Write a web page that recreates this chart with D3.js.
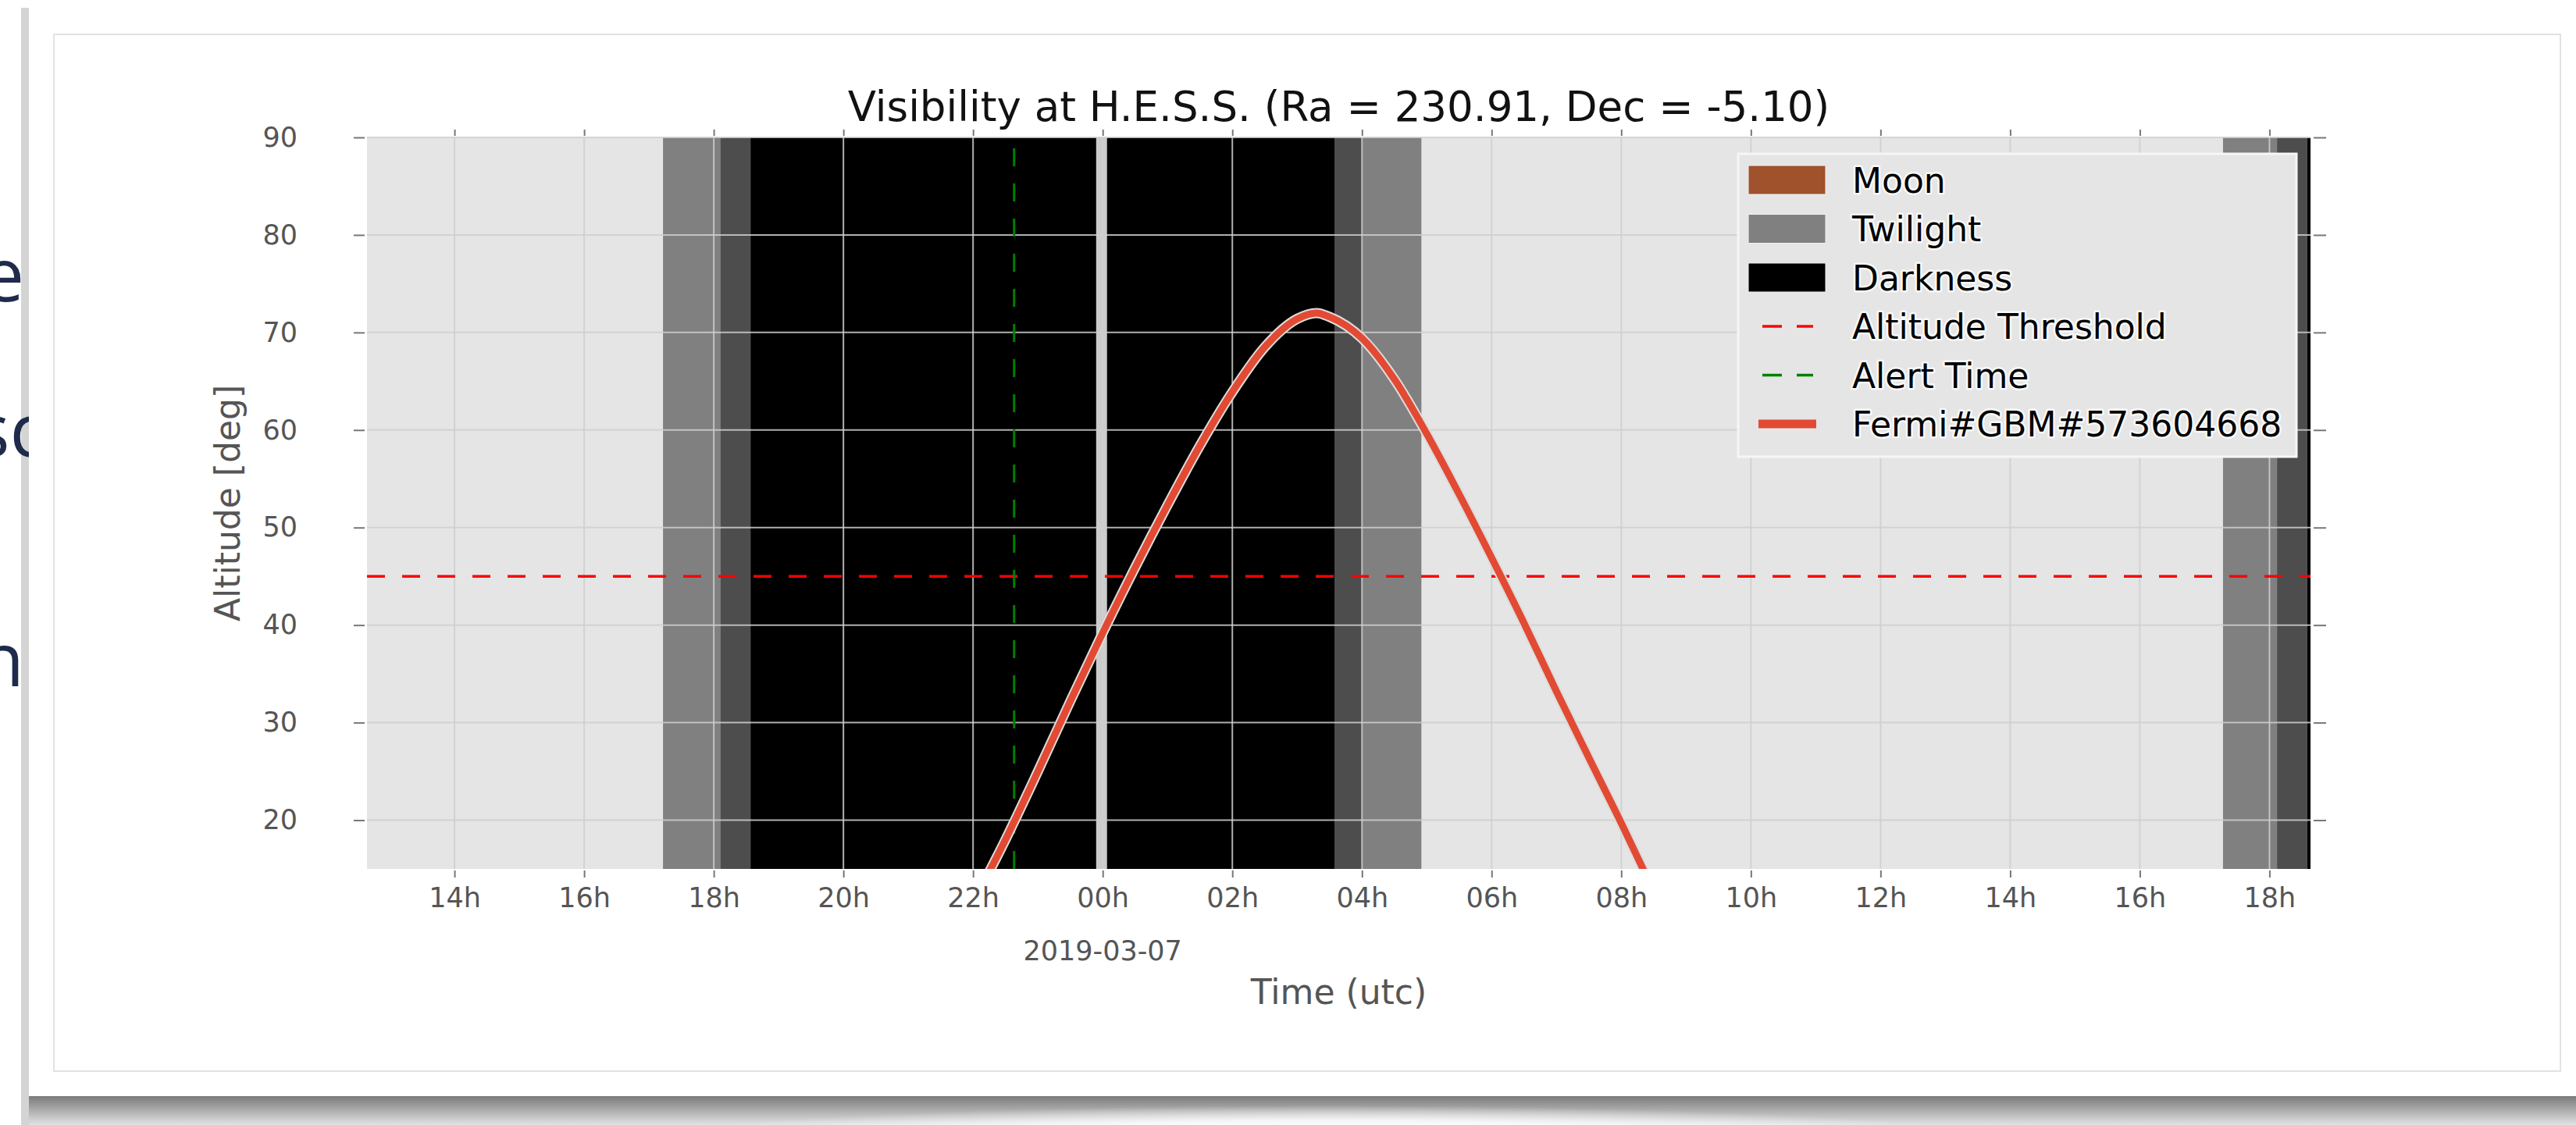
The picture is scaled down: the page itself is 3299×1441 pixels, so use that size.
<!DOCTYPE html>
<html>
<head>
<meta charset="utf-8">
<script src="https://cdn.jsdelivr.net/npm/d3@7"></script>
<style>
  body { margin: 0; background: #fff; }
  svg { display: block; font-family: "DejaVu Sans", sans-serif; }
</style>
</head>
<body>
<div id="plot"></div>
<script>
// page size and plot box
const w = 3299;
const h = 1441;
const margin = {top: 176, right: 340, bottom: 328, left: 470};
const innerWidth = w - margin.left - margin.right;
const innerHeight = h - margin.top - margin.bottom;

// axis ranges and ticks
const timeDomain = ["2019-03-06T12:39Z", "2019-03-07T18:38Z"];
const altDomain = [15, 90];
const altTicks = [20, 30, 40, 50, 60, 70, 80, 90];
const dateLabel = "2019-03-07";
const dateLabelTime = "2019-03-07T00:00Z";

// sky condition bands
const bandStart = ["2019-03-06T17:13Z", "2019-03-06T18:06Z", "2019-03-06T18:34Z", "2019-03-06T23:54Z",
  "2019-03-07T00:04Z", "2019-03-07T03:35Z", "2019-03-07T04:01Z",
  "2019-03-07T17:17Z", "2019-03-07T18:07Z", "2019-03-07T18:35Z"];
const bandEnd = ["2019-03-06T18:06Z", "2019-03-06T18:34Z", "2019-03-06T23:54Z", "2019-03-07T00:04Z",
  "2019-03-07T03:35Z", "2019-03-07T04:01Z", "2019-03-07T04:55Z",
  "2019-03-07T18:07Z", "2019-03-07T18:35Z", "2019-03-07T18:38Z"];
const bandKind = ["twilight", "deep", "darkness", "gap", "darkness", "deep", "twilight",
  "twilight", "deep", "darkness"];

// source altitude
const curveTimes = ["2019-03-06T22:00Z", "2019-03-06T22:30Z", "2019-03-06T23:00Z", "2019-03-06T23:30Z",
  "2019-03-07T00:00Z", "2019-03-07T00:30Z", "2019-03-07T01:00Z", "2019-03-07T01:30Z",
  "2019-03-07T02:00Z", "2019-03-07T02:30Z", "2019-03-07T03:00Z", "2019-03-07T03:18Z",
  "2019-03-07T03:30Z", "2019-03-07T04:00Z", "2019-03-07T04:30Z", "2019-03-07T05:00Z",
  "2019-03-07T05:30Z", "2019-03-07T06:00Z", "2019-03-07T06:30Z", "2019-03-07T07:00Z",
  "2019-03-07T07:30Z", "2019-03-07T08:00Z", "2019-03-07T08:30Z"];
const curveAlt = [11.5, 18.0, 25.0, 32.2, 39.2, 45.9, 52.3, 58.4, 63.9, 68.5, 71.4, 72.0,
  71.6, 69.4, 65.2, 59.6, 53.4, 46.9, 40.2, 33.2, 26.4, 19.7, 12.7];

const altThreshold = 45;
const alertTime = "2019-03-06T22:38Z";

const legendLabels = ["Moon", "Twilight", "Darkness", "Altitude Threshold", "Alert Time", "Fermi#GBM#573604668"];
const legendTypes = ["patch", "patch", "patch", "dash", "dash", "line"];

const parse = d3.isoParse;

// create SVG element
const svg = d3.select("div#plot")
  .append("svg")
    .attr("width", w)
    .attr("height", h);

// ---- slide decoration around the chart ----
const defs = svg.append("defs");
defs.append("clipPath").attr("id", "leftcut")
  .append("rect").attr("x", 0).attr("y", 0).attr("width", 37).attr("height", h);
defs.append("clipPath").attr("id", "plotclip")
  .append("rect").attr("x", margin.left).attr("y", margin.top)
  .attr("width", innerWidth).attr("height", innerHeight);

const shade = defs.append("linearGradient").attr("id", "shade")
  .attr("x1", 0).attr("y1", 0).attr("x2", 0).attr("y2", 1);
shade.append("stop").attr("offset", "0%").attr("stop-color", "#7a7a7a");
shade.append("stop").attr("offset", "100%").attr("stop-color", "#e2e2e2");
const glow = defs.append("radialGradient").attr("id", "glow");
glow.append("stop").attr("offset", "0%").attr("stop-color", "#ffffff").attr("stop-opacity", 1);
glow.append("stop").attr("offset", "60%").attr("stop-color", "#ffffff").attr("stop-opacity", 0.8);
glow.append("stop").attr("offset", "100%").attr("stop-color", "#ffffff").attr("stop-opacity", 0);

svg.append("rect")
  .attr("x", 27).attr("y", 10).attr("width", 10).attr("height", h - 10)
  .attr("fill", "#d4d4d4");

// pieces of the slide text hidden behind the chart
const slideText = svg.append("g")
  .attr("clip-path", "url(#leftcut)")
  .attr("font-family", "'Open Sans', sans-serif")
  .attr("font-size", 95)
  .attr("fill", "#1e2b4a")
  .attr("text-anchor", "end");
slideText.append("text").attr("x", 31).attr("y", 386).text("e");
slideText.append("text").attr("x", 58).attr("y", 585).text("sc");
slideText.append("text").attr("x", 31).attr("y", 879).text("n");

svg.append("rect")
  .attr("x", 37).attr("y", 1404).attr("width", w - 37).attr("height", h - 1404)
  .attr("fill", "url(#shade)");
svg.append("ellipse")
  .attr("cx", 1700).attr("cy", 1466).attr("rx", 900).attr("ry", 50)
  .attr("fill", "url(#glow)");

svg.append("rect")
  .attr("x", 69).attr("y", 44).attr("width", 3210).attr("height", 1328)
  .attr("fill", "#ffffff")
  .attr("stroke", "#e2e2e2")
  .attr("stroke-width", 2);

// ---- scales ----
const xScale = d3.scaleUtc()
  .domain(timeDomain.map(parse))
  .range([margin.left, margin.left + innerWidth]);

const yScale = d3.scaleLinear()
  .domain(altDomain)
  .range([margin.top + innerHeight, margin.top]);

const bandColor = d3.scaleOrdinal()
  .domain(["twilight", "deep", "darkness", "gap"])
  .range(["#808080", "#4d4d4d", "#000000", "#cccccc"]);

const xTicks = d3.utcHour.every(2).range(xScale.domain()[0], xScale.domain()[1]);

// create plot group
const plot = svg.append("g").attr("id", "plot");

// background
plot.append("rect")
  .attr("x", margin.left).attr("y", margin.top)
  .attr("width", innerWidth).attr("height", innerHeight)
  .attr("fill", "#e5e5e5");

// bands
plot.selectAll("rect.band")
  .data(bandKind.map((k, i) => ({kind: k, start: parse(bandStart[i]), end: parse(bandEnd[i])})))
  .enter()
  .append("rect")
    .attr("class", "band")
    .attr("x", d => xScale(d.start))
    .attr("y", margin.top)
    .attr("width", d => xScale(d.end) - xScale(d.start))
    .attr("height", innerHeight)
    .attr("fill", d => bandColor(d.kind));

// gridlines
plot.selectAll("line.vertical")
  .data(xTicks)
  .enter()
  .append("line")
    .attr("class", "vertical")
    .attr("x1", d => xScale(d))
    .attr("x2", d => xScale(d))
    .attr("y1", margin.top)
    .attr("y2", margin.top + innerHeight)
    .attr("stroke", "#cfcfcf")
    .attr("stroke-opacity", 0.85)
    .attr("stroke-width", 2);

plot.selectAll("line.horizontal")
  .data(altTicks)
  .enter()
  .append("line")
    .attr("class", "horizontal")
    .attr("x1", margin.left)
    .attr("x2", margin.left + innerWidth)
    .attr("y1", d => yScale(d))
    .attr("y2", d => yScale(d))
    .attr("stroke", "#cfcfcf")
    .attr("stroke-opacity", 0.85)
    .attr("stroke-width", 2);

// altitude threshold
plot.append("line")
  .attr("x1", margin.left)
  .attr("x2", margin.left + innerWidth)
  .attr("y1", yScale(altThreshold))
  .attr("y2", yScale(altThreshold))
  .attr("stroke", "#ff0000")
  .attr("stroke-width", 3.5)
  .attr("stroke-dasharray", "23 22");

// alert time
plot.append("line")
  .attr("x1", xScale(parse(alertTime)))
  .attr("x2", xScale(parse(alertTime)))
  .attr("y1", yScale(altDomain[0]))
  .attr("y2", yScale(altDomain[1]))
  .attr("stroke", "#008000")
  .attr("stroke-width", 3)
  .attr("stroke-dasharray", "23 22");

// altitude curve
const curveData = curveTimes.map((t, i) => ({time: parse(t), alt: curveAlt[i]}));
const line = d3.line()
  .x(d => xScale(d.time))
  .y(d => yScale(d.alt))
  .curve(d3.curveMonotoneX);

const curveG = plot.append("g").attr("clip-path", "url(#plotclip)");
curveG.append("path")
  .datum(curveData)
  .attr("d", line)
  .attr("fill", "none")
  .attr("stroke", "#dcdcdc")
  .attr("stroke-width", 13);
curveG.append("path")
  .datum(curveData)
  .attr("d", line)
  .attr("fill", "none")
  .attr("stroke", "#e24a33")
  .attr("stroke-width", 9);

// ---- axes ----
function styleAxis(g) {
  g.select(".domain").remove();
  g.selectAll(".tick line").attr("stroke", "#777").attr("stroke-width", 2);
  g.selectAll(".tick text")
    .attr("fill", "#555")
    .attr("font-size", 35)
    .attr("font-family", "'DejaVu Sans', sans-serif");
}

svg.append("g")
  .attr("transform", `translate(0, ${margin.top + innerHeight + 2})`)
  .call(d3.axisBottom(xScale).tickValues(xTicks).tickFormat(d3.utcFormat("%Hh")).tickSize(9).tickPadding(13))
  .call(styleAxis);

// top and right axes carry tick marks only
svg.append("g")
  .attr("transform", `translate(0, ${margin.top - 2})`)
  .call(d3.axisTop(xScale).tickValues(xTicks).tickSize(8))
  .call(styleAxis)
  .call(g => g.selectAll(".tick text").remove());

svg.append("g")
  .attr("transform", `translate(${margin.left - 3}, 0)`)
  .call(d3.axisLeft(yScale).tickValues(altTicks).tickSize(14).tickPadding(72))
  .call(styleAxis);

svg.append("g")
  .attr("transform", `translate(${margin.left + innerWidth + 4}, 0)`)
  .call(d3.axisRight(yScale).tickValues(altTicks).tickSize(16))
  .call(styleAxis)
  .call(g => g.selectAll(".tick text").remove());

// date under the axis
svg.append("text")
  .attr("x", xScale(parse(dateLabelTime)))
  .attr("y", 1230)
  .attr("text-anchor", "middle")
  .attr("font-size", 35)
  .attr("fill", "#555")
  .text(dateLabel);

// axis labels
svg.append("text")
  .attr("x", margin.left + innerWidth / 2)
  .attr("y", 1286)
  .attr("text-anchor", "middle")
  .attr("font-size", 44)
  .attr("fill", "#555")
  .text("Time (utc)");

svg.append("text")
  .attr("transform", `translate(307, ${margin.top + innerHeight / 2}) rotate(-90)`)
  .attr("text-anchor", "middle")
  .attr("font-size", 44)
  .attr("fill", "#555")
  .text("Altitude [deg]");

// title
svg.append("text")
  .attr("x", margin.left + innerWidth / 2)
  .attr("y", 155)
  .attr("text-anchor", "middle")
  .attr("font-size", 53)
  .attr("fill", "#111")
  .text("Visibility at H.E.S.S. (Ra = 230.91, Dec = -5.10)");

// ---- legend ----
const legendColor = {
  "Moon": "#a0522d",
  "Twilight": "#808080",
  "Darkness": "#000000",
  "Altitude Threshold": "#ff0000",
  "Alert Time": "#008000",
  "Fermi#GBM#573604668": "#e24a33"
};

const legend = svg.append("g").attr("id", "legend");
legend.append("rect")
  .attr("x", 2226).attr("y", 197).attr("width", 715).attr("height", 388)
  .attr("fill", "#e5e5e5")
  .attr("stroke", "#f6f6f6")
  .attr("stroke-width", 3);

const rows = legend.selectAll("g.row")
  .data(legendLabels.map((l, i) => ({label: l, type: legendTypes[i]})))
  .enter()
  .append("g")
    .attr("class", "row")
    .attr("transform", (d, i) => `translate(2226, ${230.5 + i * 62.5})`);

rows.filter(d => d.type === "patch")
  .append("rect")
    .attr("x", 13).attr("y", -18.5).attr("width", 99).attr("height", 37)
    .attr("fill", d => legendColor[d.label])
    .attr("stroke", "#f0f0f0")
    .attr("stroke-width", 1);

rows.filter(d => d.type === "dash")
  .append("line")
    .attr("x1", 31).attr("x2", 96).attr("y1", 0).attr("y2", 0)
    .attr("stroke", d => legendColor[d.label])
    .attr("stroke-width", 3.5)
    .attr("stroke-dasharray", "25 19");

rows.filter(d => d.type === "line")
  .append("line")
    .attr("x1", 26).attr("x2", 100).attr("y1", 0).attr("y2", 0)
    .attr("stroke", d => legendColor[d.label])
    .attr("stroke-width", 11);

rows.append("text")
  .attr("x", 146)
  .attr("y", 16)
  .attr("font-size", 44)
  .attr("fill", "#000")
  .attr("stroke", "#ffffff")
  .attr("stroke-width", 5)
  .attr("stroke-opacity", 0.75)
  .attr("stroke-linejoin", "round")
  .attr("paint-order", "stroke")
  .text(d => d.label);
</script>
</body>
</html>
